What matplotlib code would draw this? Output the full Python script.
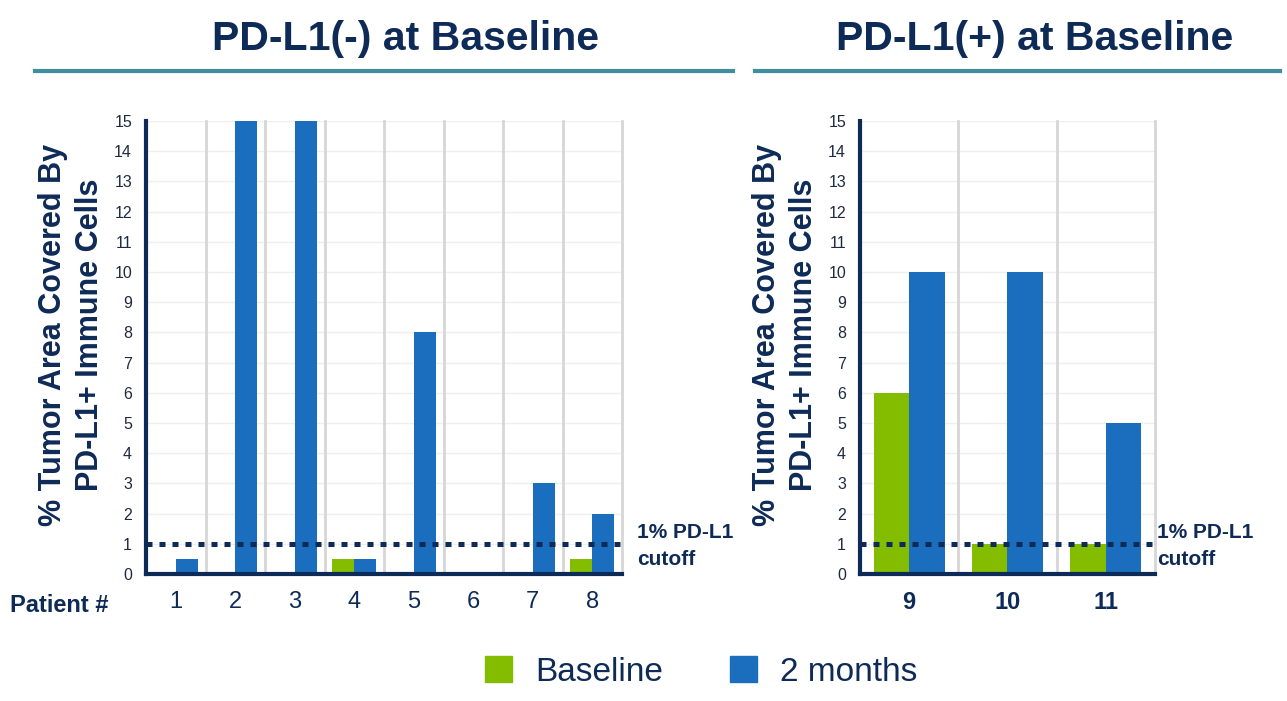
import matplotlib.pyplot as plt
from matplotlib.patches import Patch
from matplotlib.lines import Line2D

# data
neg_patients = ['1', '2', '3', '4', '5', '6', '7', '8']
neg_baseline = [0, 0, 0, 0.5, 0, 0, 0, 0.5]
neg_2months = [0.5, 15, 15, 0.5, 8, 0, 3, 2]

pos_patients = ['9', '10', '11']
pos_baseline = [6, 1, 1]
pos_2months = [10, 10, 5]

cutoff = 1
yticks = list(range(0, 16))

GREEN = '#84bc00'
BLUE = '#1a6ebd'
NAVY = '#0e2a57'
TEAL = '#3f8e9e'
plt.rcParams['font.family'] = ['Liberation Sans', 'DejaVu Sans']

W, H = 1287, 701
fig = plt.figure(figsize=(W / 100, H / 100), dpi=100)


def draw_panel(ax, labels, base, later, width, bold_ticks, ax_w, note_dx):
    x = list(range(len(labels)))
    ax.bar([i - width / 2 for i in x], base, width, color=GREEN, zorder=3)
    ax.bar([i + width / 2 for i in x], later, width, color=BLUE, zorder=3)
    ax.set_xlim(-0.5, len(labels) - 0.5)
    ax.set_ylim(0, 15)
    ax.set_yticks(yticks)
    ax.set_xticks(x)
    ax.set_xticklabels(labels, fontweight='bold' if bold_ticks else 'normal',
                       fontsize=17, color=NAVY)
    ax.tick_params(axis='y', length=0, pad=10, labelsize=11.5, labelcolor='#1e2a40')
    ax.tick_params(axis='x', length=0, pad=12)
    for y in yticks[1:]:
        ax.axhline(y, color='#efefef', lw=1, zorder=1)
    for b in x:
        ax.axvline(b + 0.5, color='#d6d6d6', lw=2, zorder=1, clip_on=False)
    ax.axhline(cutoff, color=NAVY, lw=3.6, ls=(0, (1.2, 1.4)),
               dash_capstyle='butt', zorder=4)
    for s in ['top', 'right']:
        ax.spines[s].set_visible(False)
    for s in ['left', 'bottom']:
        ax.spines[s].set_color(NAVY)
        ax.spines[s].set_linewidth(3)
        ax.spines[s].set_zorder(5)
    ax.set_ylabel('% Tumor Area Covered By\nPD-L1+ Immune Cells', fontsize=22,
                  fontweight='bold', color=NAVY, linespacing=1.3)
    ax.yaxis.set_label_coords(-41 / ax_w, (574 - 335) / 453)
    ax.annotate('1% PD-L1\ncutoff', xy=(1, cutoff), xycoords=ax.get_yaxis_transform(),
                xytext=(note_dx, -2), textcoords='offset pixels',
                ha='left', va='center', fontsize=15, fontweight='bold', color=NAVY,
                linespacing=1.5)


ax1 = fig.add_axes([146 / W, 1 - 574 / H, (622 - 146) / W, (574 - 121) / H])
draw_panel(ax1, neg_patients, neg_baseline, neg_2months, 0.37, False, 476, 15)
ax2 = fig.add_axes([860 / W, 1 - 574 / H, (1155 - 860) / W, (574 - 121) / H])
draw_panel(ax2, pos_patients, pos_baseline, pos_2months, 0.36, True, 295, 2)

fig.text(10 / W, 1 - 605 / H, 'Patient #', fontsize=17, fontweight='bold',
         color=NAVY, ha='left', va='center')

title_font = ['Liberation Sans Narrow', 'Liberation Sans', 'DejaVu Sans']
fig.text(405 / W, 1 - 39 / H, 'PD-L1(-) at Baseline', fontsize=29.5,
         fontweight='bold', color=NAVY, ha='center', va='center', family=title_font)
fig.text(1035 / W, 1 - 39 / H, 'PD-L1(+) at Baseline', fontsize=29.5,
         fontweight='bold', color=NAVY, ha='center', va='center', family=title_font)
fig.add_artist(Line2D([35 / W, 733 / W], [1 - 71 / H] * 2, color=TEAL, lw=3))
fig.add_artist(Line2D([755 / W, 1280 / W], [1 - 71 / H] * 2, color=TEAL, lw=3))

handles = [Patch(color=GREEN, label='Baseline'), Patch(color=BLUE, label='2 months')]
leg = fig.legend(handles=handles, loc='center', bbox_to_anchor=(0.545, 1 - 672 / H),
                 ncol=2, frameon=False, fontsize=24, handlelength=0.8, handleheight=0.8,
                 handletextpad=0.7, columnspacing=2.0)
for t in leg.get_texts():
    t.set_color(NAVY)

fig.savefig('out.png', dpi=100)
